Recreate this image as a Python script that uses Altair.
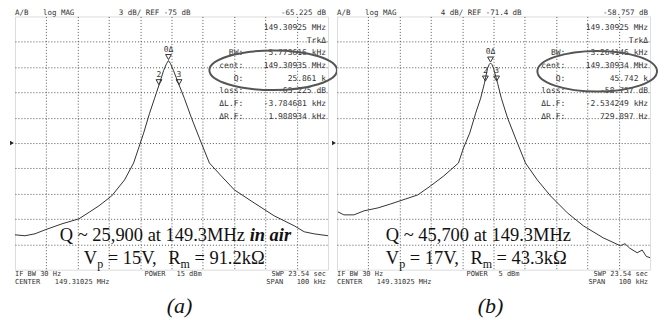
import altair as alt
import pandas as pd

CENTER_MHZ = 149.31025
SPAN_KHZ = 100.0

# ---------- panel (a): trace (offset from center in kHz, level in dB)
a_off_khz = [-50.0, -46.8, -43.6, -40.4, -35.0, -29.6, -26.1, -23.2, -19.1, -15.0,
             -12.1, -10.5, -8.9, -7.0, -5.4, -3.8, -2.5, -1.6, -0.96, -0.3,
             0.6, 2.2, 4.1, 6.4, 8.9, 12.1, 15.9, 20.1, 26.4, 32.8,
             39.2, 42.4, 45.5, 50.0]
a_db = [-85.87, -85.98, -85.75, -85.28, -84.57, -83.98, -83.15, -82.44, -81.26, -79.37,
        -77.36, -75.59, -73.82, -71.46, -69.69, -67.91, -66.38, -65.6, -65.23, -65.6,
        -66.38, -67.91, -69.69, -72.05, -74.41, -77.36, -78.90, -80.55, -82.09, -83.62,
        -84.80, -85.51, -85.75, -85.98]
a_ref_db = -75.0
a_db_per_div = 3.0
a_mk_off = [-0.96, -4.0, 2.4]
a_mk_db = [-65.225, -68.2, -68.2]
a_mk_lbl = ["0Δ", "2", "3"]
a_header = ["3 dB/ REF -75 dB", "-65.225 dB"]
a_read_lbl = ["", "", "BW:", "cent:", "Q:", "loss:", "ΔL.F:", "ΔR.F:"]
a_read_val = ["149.30925 MHz", "TrkΔ", "5.773616 kHz", "149.30935 MHz", "25.861 k",
              "-65.225 dB", "-3.784681 kHz", "1.988934 kHz"]
a_power = "15 dBm"
a_q_text = "Q ~ 25,900 at 149.3MHz"
a_q_extra = "in air"
a_v_parts = ["V", "p", "= 15V,", "R", "m", "= 91.2kΩ"]
a_tag = "(a)"

# ---------- panel (b)
b_off_khz = [-49.7, -47.8, -44.6, -41.4, -36.9, -32.8, -28.0, -24.2, -20.1, -15.9,
             -11.2, -9.6, -7.6, -5.7, -4.1, -2.9, -1.9, -1.4, -0.96, -0.5,
             0.0, 1.3, 2.5, 4.5, 7.0, 10.2, 14.0, 18.2, 23.6, 28.7,
             35.0, 40.5, 42.0, 43.5, 45.9, 47.5, 48.8, 50.0]
b_db = [-82.27, -82.74, -82.74, -82.11, -81.64, -81.01, -80.22, -79.59, -78.17, -76.60,
        -74.55, -72.19, -69.83, -66.68, -64.31, -61.95, -59.59, -59.0, -58.76, -59.0,
        -59.59, -61.95, -64.31, -67.46, -70.61, -74.55, -77.23, -79.75, -82.43, -84.47,
        -86.36, -87.62, -87.3, -88.0, -88.73, -88.3, -89.3, -89.51]
b_ref_db = -71.4
b_db_per_div = 4.0
b_mk_off = [-0.96, -2.6, 1.0]
b_mk_db = [-58.757, -61.76, -61.76]
b_mk_lbl = ["0Δ", "2", "3"]
b_header = ["4 dB/ REF -71.4 dB", "-58.757 dB"]
b_read_lbl = ["", "", "BW:", "cent:", "Q:", "loss:", "ΔL.F:", "ΔR.F:"]
b_read_val = ["149.30925 MHz", "TrkΔ", "3.264146 kHz", "149.30934 MHz", "45.742 k",
              "-58.757 dB", "-2.534249 kHz", "729.897 Hz"]
b_power = "5 dBm"
b_q_text = "Q ~ 45,700 at 149.3MHz"
b_q_extra = ""
b_v_parts = ["V", "p", "= 17V,", "R", "m", "= 43.3kΩ"]
b_tag = "(b)"

# ---------- layout / style
W, H = 314, 254
MONO = "DejaVu Sans Mono"
SERIF = "Liberation Serif"
INK = "#333333"
DUMMY = pd.DataFrame({"k": [0]})


def txt(text, x, y, align="left", size=8, font=MONO, color=INK, style="normal",
        weight="normal", baseline="middle"):
    return alt.Chart(DUMMY).mark_text(
        align=align, baseline=baseline, font=font, fontSize=size, fontStyle=style,
        fontWeight=weight, color=color
    ).encode(x=alt.value(x), y=alt.value(y), text=alt.value(text))


def panel(off, db, ref_db, per_div, mk_off, mk_db, mk_lbl, header, read_lbl, read_val,
          power, q_text, q_extra, v_parts, tag, big_x, tag_x, ell, lbl_right):
    f0 = CENTER_MHZ - SPAN_KHZ / 2000.0
    f1 = CENTER_MHZ + SPAN_KHZ / 2000.0
    y0 = ref_db - 5 * per_div
    y1 = ref_db + 5 * per_div
    xs = alt.Scale(domain=[f0, f1], nice=False, zero=False)
    ys = alt.Scale(domain=[y0, y1], nice=False, zero=False)
    g = dict(grid=True, labels=False, ticks=False, domain=False, title=None,
             gridDash=[1, 2], gridColor="#444444", gridWidth=1, gridOpacity=0.9)
    xax = alt.Axis(values=[f0 + i * (f1 - f0) / 10 for i in range(1, 10)], **g)
    yax = alt.Axis(values=[y0 + i * per_div for i in range(1, 10)], **g)

    tr = pd.DataFrame({"f": [CENTER_MHZ + o / 1000.0 for o in off], "db": db})
    mk = pd.DataFrame({"f": [CENTER_MHZ + o / 1000.0 for o in mk_off], "db": mk_db,
                       "lbl": mk_lbl})

    enc = dict(x=alt.X("f:Q", scale=xs, axis=xax), y=alt.Y("db:Q", scale=ys, axis=yax))
    layers = [
        alt.Chart(tr).mark_line(color=INK, strokeWidth=1).encode(**enc),
        alt.Chart(mk).mark_point(shape="triangle-down", filled=False, size=34, color=INK,
                                 strokeWidth=1, opacity=1, yOffset=-3.5).encode(**enc),
        alt.Chart(mk).mark_text(font=MONO, fontSize=8, color=INK, dy=-11).encode(
            text="lbl:N", **enc),
        alt.Chart(DUMMY).mark_point(shape="triangle-right", filled=True, size=20,
                                    color="#222", opacity=1).encode(
            x=alt.value(-3), y=alt.Y(datum=ref_db, scale=ys, axis=yax)),
    ]
    # header line
    layers += [txt("A/B", 0, -7, baseline="top", size=7.5),
               txt("log MAG", 28, -7, baseline="top", size=7.5),
               txt(header[0], 104, -7, baseline="top", size=7.5),
               txt(header[1], 312, -7, align="right", baseline="top", size=7.5)]
    # marker readout block
    for i, (l, v) in enumerate(zip(read_lbl, read_val)):
        yy = 11.5 + 12.7 * i
        if l:
            layers.append(txt(l, lbl_right, yy, align="right"))
        layers.append(txt(v, 312, yy, align="right"))
    # footer
    fsz = 7
    layers += [txt("IF BW 30 Hz", 0, 258, size=fsz),
               txt("CENTER", 0, 266, size=fsz),
               txt("149.31025 MHz", 40, 266, size=fsz),
               txt("POWER", 130, 258, size=fsz),
               txt(power, 162, 258, size=fsz),
               txt("SWP 23.54 sec", 312, 258, align="right", size=fsz),
               txt("SPAN", 269, 266, align="right", size=fsz),
               txt("100 kHz", 312, 266, align="right", size=fsz)]
    # big annotation
    fs, fss = 18.5, 12
    layers.append(txt(q_text, big_x[0], 225, font=SERIF, size=fs, color="#111",
                      baseline="alphabetic"))
    if q_extra:
        layers.append(txt(q_extra, big_x[0] + 10290 * fs / 1000.0, 225, font=SERIF, size=fs,
                          color="#111", style="italic", weight="bold", baseline="alphabetic"))
    vx = big_x[1]
    offs = [0, 13.4, 24.0, 84.8, 97.1, 111.0]
    sub = [False, True, False, False, True, False]
    for part, o, s in zip(v_parts, offs, sub):
        layers.append(txt(part, vx + o, 252 if s else 248, font=SERIF,
                          size=fss if s else fs, color="#111", baseline="alphabetic"))
    # figure tag
    layers.append(txt(tag, tag_x, 290, align="center", font=SERIF, size=22, color="#111",
                      style="italic"))
    # hand-drawn ellipse
    cx, cy, rx, ratio = ell
    path = f"M -1 0 A 1 {ratio} 0 1 0 1 0 A 1 {ratio} 0 1 0 -1 0 Z"
    layers.append(alt.Chart(DUMMY).mark_point(shape=path, size=(2 * rx) ** 2, filled=False,
                                              color="#555", strokeWidth=2, opacity=1)
                  .encode(x=alt.value(cx), y=alt.value(cy)))
    return alt.layer(*layers).properties(width=W, height=H)


pa = panel(a_off_khz, a_db, a_ref_db, a_db_per_div, a_mk_off, a_mk_db, a_mk_lbl, a_header,
           a_read_lbl, a_read_val, a_power, a_q_text, a_q_extra, a_v_parts, a_tag,
           big_x=(45, 69), tag_x=165, ell=(259, 54, 64, 0.31), lbl_right=229)
pb = panel(b_off_khz, b_db, b_ref_db, b_db_per_div, b_mk_off, b_mk_db, b_mk_lbl, b_header,
           b_read_lbl, b_read_val, b_power, b_q_text, b_q_extra, b_v_parts, b_tag,
           big_x=(49, 49), tag_x=154, ell=(261, 55, 60, 0.34), lbl_right=229)

chart = alt.hconcat(pa, pb, spacing=9, bounds="flush").properties(
    padding={"left": 1, "top": 0, "right": 0, "bottom": 0}
).configure_view(stroke="#333", strokeWidth=1.5).configure(background="white")

chart.save("out.html", embed_options={"renderer": "svg", "actions": False})
